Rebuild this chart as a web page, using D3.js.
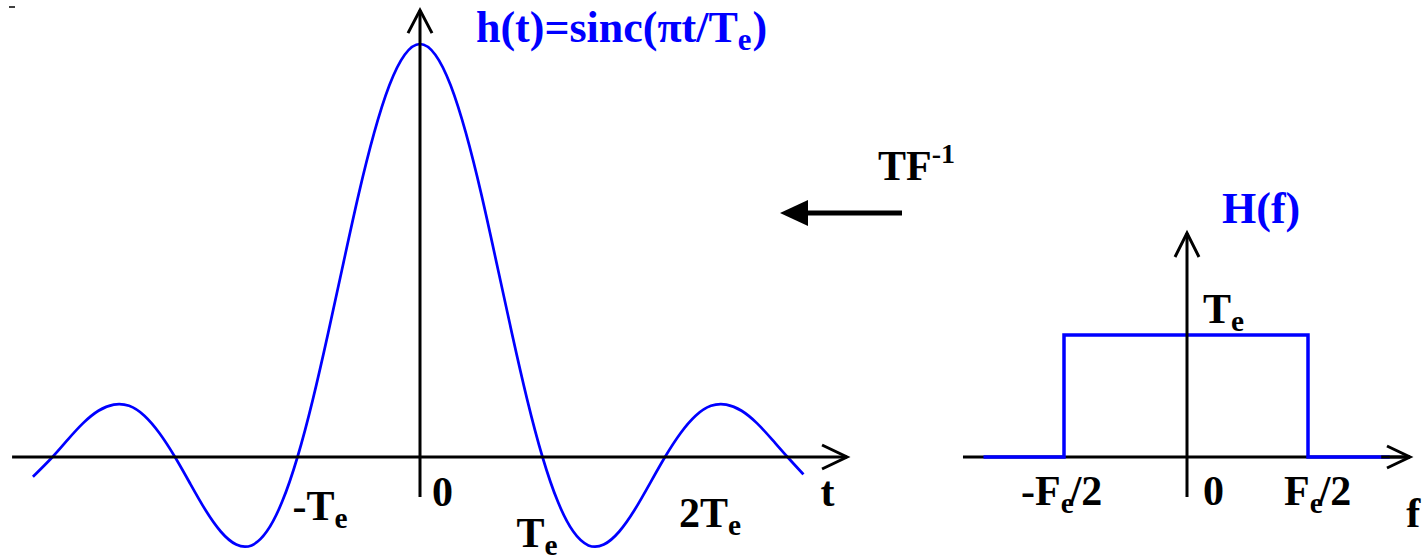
<!DOCTYPE html>
<html>
<head>
<meta charset="utf-8">
<script src="https://cdn.jsdelivr.net/npm/d3@7"></script>
<style>
  html, body { margin: 0; padding: 0; background: #fff; }
  svg { display: block; }
  text { font-family: "Liberation Serif", "Times New Roman", serif; font-weight: bold; }
</style>
</head>
<body>
<div id="chart"></div>
<script>
// h(t) samples, t in units of Te
const tValues = [-3.16, -3, -2.875, -2.75, -2.625, -2.5, -2.375, -2.25, -2.125, -2, -1.875, -1.75, -1.625, -1.5,
  -1.375, -1.25, -1.125, -1, -0.875, -0.75, -0.625, -0.5, -0.375, -0.25, -0.125, 0,
  0.125, 0.25, 0.375, 0.5, 0.625, 0.75, 0.875, 1, 1.125, 1.25, 1.375, 1.5, 1.625, 1.75,
  1.875, 2, 2.125, 2.25, 2.375, 2.5, 2.625, 2.75, 2.875, 3, 3.13];
const hValues = [-0.048, 0, 0.042, 0.082, 0.112, 0.127, 0.124, 0.1, 0.057, 0, -0.065, -0.129, -0.181, -0.212,
  -0.214, -0.18, -0.108, 0, 0.139, 0.3, 0.47, 0.637, 0.784, 0.9, 0.974, 1,
  0.974, 0.9, 0.784, 0.637, 0.47, 0.3, 0.139, 0, -0.108, -0.18, -0.214, -0.212, -0.181, -0.129,
  -0.065, 0, 0.057, 0.1, 0.124, 0.127, 0.112, 0.082, 0.042, 0, -0.042];

// H(f) samples, f in units of Fe, height in units of Te
const fValues = [-0.83, -0.5, -0.5, 0.5, 0.5, 0.835];
const HValues = [0, 0, 1, 1, 0, 0];

const tTicks = [0, -1, 1, 2];
const tTickLabels = [["0"], ["-T", "e"], ["T", "e"], ["2T", "e"]];
const fTicks = [-0.5, 0, 0.5];
const fTickLabels = [["-F", "e", "/2"], ["0"], ["F", "e", "/2"]];

const W = 1422, H = 556;
const BLUE = "#0000ff";
const FS = 42;

const svg = d3.select("#chart").append("svg").attr("width", W).attr("height", H);

// scales
const xT = d3.scaleLinear().domain([-1, 1]).range([297.5, 542.5]);
const yT = d3.scaleLinear().domain([0, 1]).range([457, 44]);
const xF = d3.scaleLinear().domain([-0.5, 0.5]).range([1064, 1308]);
const yF = d3.scaleLinear().domain([0, 1]).range([457, 335]);

function openArrow(g, x1, y1, x2, y2, len, half) {
  g.append("line").attr("x1", x1).attr("y1", y1).attr("x2", x2).attr("y2", y2)
    .attr("stroke", "#000").attr("stroke-width", 3);
  const a = Math.atan2(y2 - y1, x2 - x1);
  const bx = x2 - len * Math.cos(a), by = y2 - len * Math.sin(a);
  const px = -Math.sin(a) * half, py = Math.cos(a) * half;
  g.append("path")
    .attr("d", `M${bx + px},${by + py}L${x2},${y2}L${bx - px},${by - py}`)
    .attr("fill", "none").attr("stroke", "#000").attr("stroke-width", 3);
}

// label with optional subscript: parts = [main, sub, rest]
function label(g, x, y, parts, color, size, restDx) {
  const fs = size || FS;
  const t = g.append("text").attr("x", x).attr("y", y)
    .attr("font-size", fs).attr("fill", color || "#000");
  t.append("tspan").text(parts[0]);
  if (parts[1]) {
    t.append("tspan").attr("font-size", fs * 0.7).attr("dy", 8).text(parts[1]);
  }
  if (parts[2]) {
    t.append("tspan").attr("dy", -8).attr("dx", restDx == null ? -4 : restDx).text(parts[2]);
  }
  return t;
}

// ---- left panel: h(t) ----
const left = svg.append("g");
const line = d3.line().x(d => xT(d[0])).y(d => yT(d[1])).curve(d3.curveNatural);
left.append("path")
  .datum(tValues.map((t, i) => [t, hValues[i]]))
  .attr("d", line)
  .attr("fill", "none").attr("stroke", BLUE).attr("stroke-width", 2.7);

openArrow(left, xT(-3.33), yT(0), xT(3.486), yT(0), 25, 12);
openArrow(left, xT(0), yT(-0.097), xT(0), yT(1.082), 23, 12);

const tOffsets = [[12, 49], [-5, 63], [-26, 90], [14, 70]];
tTicks.forEach((t, i) => {
  label(left, xT(t) + tOffsets[i][0], yT(0) + tOffsets[i][1], tTickLabels[i]);
});
label(left, xT(3.27), yT(0) + 49, ["t"]);
label(left, xT(0) + 56, 42, ["h(t)=sinc(\u03c0t/T", "e", ")"], BLUE, 44, 1);

// small stray dash top-left
left.append("line").attr("x1", 9).attr("y1", 7).attr("x2", 15).attr("y2", 7)
  .attr("stroke", "#000").attr("stroke-width", 1.5);

// ---- middle: TF^-1 arrow ----
const mid = svg.append("g");
mid.append("line").attr("x1", 902).attr("y1", 213).attr("x2", 805).attr("y2", 213)
  .attr("stroke", "#000").attr("stroke-width", 5);
mid.append("path").attr("d", "M780,213L808,200L808,226Z").attr("fill", "#000");
const tf = mid.append("text").attr("x", 878).attr("y", 180).attr("font-size", 42);
tf.append("tspan").text("TF");
tf.append("tspan").attr("font-size", 28).attr("dy", -17).text("-1");

// ---- right panel: H(f) ----
const right = svg.append("g");
right.append("line").attr("x1", xF(-0.914)).attr("y1", yF(0)).attr("x2", xF(0.918)).attr("y2", yF(0))
  .attr("stroke", "#000").attr("stroke-width", 3);
const rect = d3.line().x(d => xF(d[0])).y(d => yF(d[1]));
right.append("path")
  .datum(fValues.map((f, i) => [f, HValues[i]]))
  .attr("d", rect)
  .attr("fill", "none").attr("stroke", BLUE).attr("stroke-width", 3.5);
// arrowheads drawn after blue so they stay on top
openArrow(right, xF(0.8), yF(0), xF(0.918), yF(0), 23, 11);
openArrow(right, xF(0) + 1, yF(-0.328), xF(0) + 1, yF(1.836), 24, 12);

const fOffsets = [[-43, 48], [17, 48], [-24, 48]];
fTicks.forEach((f, i) => {
  label(right, xF(f) + fOffsets[i][0], yF(0) + fOffsets[i][1], fTickLabels[i]);
});
label(right, xF(0) + 17, yF(1) - 12, ["T", "e"]);
label(right, xF(0.903), yF(0) + 70, ["f"]);
label(right, xF(0) + 36, 223, ["H(f)"], BLUE, 44);
</script>
</body>
</html>
